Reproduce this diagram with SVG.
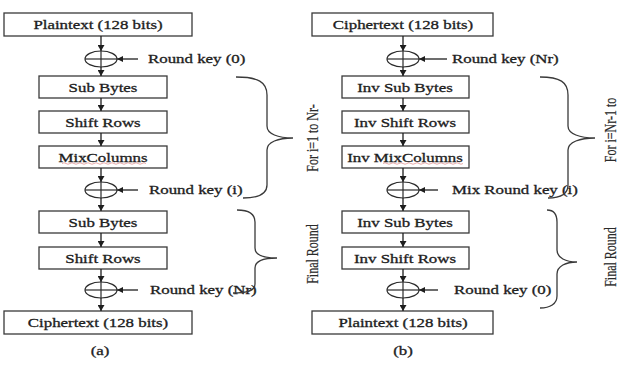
<svg xmlns="http://www.w3.org/2000/svg" width="623" height="367" viewBox="0 0 623 367">
  <defs>
    <marker id="arr" viewBox="0 0 6 7" refX="6" refY="3.5" markerWidth="6" markerHeight="7" markerUnits="userSpaceOnUse" orient="auto">
      <path d="M0,0 L6,3.5 L0,7 z" fill="#1e1e1e"/>
    </marker>
    <marker id="karr" viewBox="0 0 6 6" refX="6" refY="3" markerWidth="6" markerHeight="6" markerUnits="userSpaceOnUse" orient="auto">
      <path d="M0,0 L6,3 L0,6 z" fill="#1e1e1e"/>
    </marker>
  </defs>
  <style>
    .box { fill: #ffffff; stroke: #3a3a3a; stroke-width: 1.3; }
    .t { font-family: "Liberation Serif", "Times New Roman", serif; font-size: 12.5px; fill: #1e1e1e; stroke: #1e1e1e; stroke-width: 0.3; }
    .r { font-family: "Liberation Serif", "Times New Roman", serif; font-size: 12px; fill: #2a2a2a; stroke: #2a2a2a; stroke-width: 0.15; }
    .c { text-anchor: middle; }
    .ln { fill: none; stroke: #1e1e1e; stroke-width: 1.3; }
    .xor { fill: none; stroke: #2a2a2a; stroke-width: 1.2; }
    .brace { fill: none; stroke: #3a3a3a; stroke-width: 1.3; }
    .sq { fill: none; stroke: #d86a6a; stroke-width: 0.8; stroke-opacity: 0.7; }
  </style>
  <rect width="623" height="367" fill="#ffffff"/>

  <!-- (a) encryption -->
  <g id="enc-plaintext">
    <rect class="box" x="4" y="13" width="188" height="23"/>
    <text class="t c" transform="translate(98,28.5) scale(1.35,1)">Plaintext (128 bits)</text>
  </g>
  <g id="enc-xor0">
    <ellipse class="xor" cx="101" cy="59" rx="16" ry="8"/>
    <line class="xor" x1="85" y1="59" x2="117" y2="59"/>
    <line class="xor" x1="101" y1="51" x2="101" y2="67"/>
    <text class="t" transform="translate(148,63) scale(1.35,1)">Round key (0)</text>
  </g>
  <g id="enc-subbytes">
    <rect class="box" x="39" y="76" width="128" height="22"/>
    <text class="t c" transform="translate(103,91.5) scale(1.35,1)">Sub Bytes</text>
  </g>
  <g id="enc-shiftrows">
    <rect class="box" x="39" y="111" width="128" height="22"/>
    <text class="t c" transform="translate(103,126.5) scale(1.35,1)">Shift Rows</text>
  </g>
  <g id="enc-mixcolumns">
    <rect class="box" x="39" y="146" width="128" height="22"/>
    <text class="t c" transform="translate(103,161.5) scale(1.35,1)">MixColumns</text>
    <path class="sq" d="M62,163.5 q2,-1.5 4,0 t4,0 t4,0 t4,0 t4,0 t4,0 t4,0 t4,0 t4,0 t4,0 t4,0 t4,0 t4,0 t4,0 t4,0 t4,0 t4,0 t4,0 t4,0 t4,0 t4,0"/>
  </g>
  <g id="enc-xori">
    <ellipse class="xor" cx="101" cy="190" rx="16" ry="8"/>
    <line class="xor" x1="85" y1="190" x2="117" y2="190"/>
    <line class="xor" x1="101" y1="182" x2="101" y2="198"/>
    <text class="t" transform="translate(149,194) scale(1.35,1)">Round key (i)</text>
  </g>
  <g id="enc-subbytes-final">
    <rect class="box" x="39" y="211" width="128" height="22"/>
    <text class="t c" transform="translate(103,226.5) scale(1.35,1)">Sub Bytes</text>
  </g>
  <g id="enc-shiftrows-final">
    <rect class="box" x="39" y="247" width="128" height="22"/>
    <text class="t c" transform="translate(103,262.5) scale(1.35,1)">Shift Rows</text>
  </g>
  <g id="enc-xornr">
    <ellipse class="xor" cx="101" cy="290" rx="16" ry="8"/>
    <line class="xor" x1="85" y1="290" x2="117" y2="290"/>
    <line class="xor" x1="101" y1="282" x2="101" y2="298"/>
    <text class="t" transform="translate(150,294) scale(1.35,1)">Round key (Nr)</text>
  </g>
  <g id="enc-ciphertext">
    <rect class="box" x="4" y="311" width="188" height="23"/>
    <text class="t c" transform="translate(98,326.5) scale(1.35,1)">Ciphertext (128 bits)</text>
  </g>
  <g id="enc-rounds">
    <path class="brace" d="M236,77 C258,77 267,82 267,95 L267,126 C267,134 278,138 293,138 C278,138 267,142 267,150 L267,185 C267,194 258,198 243,198"/>
    <text class="r c" transform="translate(318,138) scale(1.35,1) rotate(-90)">For i=1 to Nr-</text>
    <path class="brace" d="M237,210 C250,210 255,214 255,222 L255,248 C255,255 264,258 277,258 C264,258 255,261 255,268 L255,284 C255,291 247,293 233,293"/>
    <text class="r c" transform="translate(318,254) scale(1.35,1) rotate(-90)">Final Round</text>
  </g>
  <text class="t c" transform="translate(100,355) scale(1.35,1)">(a)</text>

  <!-- (b) decryption -->
  <g id="dec-ciphertext">
    <rect class="box" x="312" y="13" width="181" height="23"/>
    <text class="t c" transform="translate(403,28.5) scale(1.35,1)">Ciphertext (128 bits)</text>
  </g>
  <g id="dec-xornr">
    <ellipse class="xor" cx="403" cy="59" rx="16" ry="8"/>
    <line class="xor" x1="387" y1="59" x2="419" y2="59"/>
    <line class="xor" x1="403" y1="51" x2="403" y2="67"/>
    <text class="t" transform="translate(452,63) scale(1.35,1)">Round key (Nr)</text>
  </g>
  <g id="dec-invsubbytes">
    <rect class="box" x="342" y="76" width="127" height="22"/>
    <text class="t c" transform="translate(405,91.5) scale(1.35,1)">Inv Sub Bytes</text>
  </g>
  <g id="dec-invshiftrows">
    <rect class="box" x="342" y="111" width="127" height="22"/>
    <text class="t c" transform="translate(405,126.5) scale(1.35,1)">Inv Shift Rows</text>
  </g>
  <g id="dec-invmixcolumns">
    <rect class="box" x="342" y="146" width="127" height="22"/>
    <text class="t c" transform="translate(405,161.5) scale(1.35,1)">Inv MixColumns</text>
    <path class="sq" d="M383,163.5 q2,-1.5 4,0 t4,0 t4,0 t4,0 t4,0 t4,0 t4,0 t4,0 t4,0 t4,0 t4,0 t4,0 t4,0 t4,0 t4,0 t4,0 t4,0 t4,0 t4,0 t4,0"/>
  </g>
  <g id="dec-xori">
    <ellipse class="xor" cx="403" cy="190" rx="16" ry="8"/>
    <line class="xor" x1="387" y1="190" x2="419" y2="190"/>
    <line class="xor" x1="403" y1="182" x2="403" y2="198"/>
    <text class="t" transform="translate(452,194) scale(1.35,1)">Mix Round key (i)</text>
  </g>
  <g id="dec-invsubbytes-final">
    <rect class="box" x="342" y="211" width="127" height="22"/>
    <text class="t c" transform="translate(405,226.5) scale(1.35,1)">Inv Sub Bytes</text>
  </g>
  <g id="dec-invshiftrows-final">
    <rect class="box" x="342" y="247" width="127" height="22"/>
    <text class="t c" transform="translate(405,262.5) scale(1.35,1)">Inv Shift Rows</text>
  </g>
  <g id="dec-xor0">
    <ellipse class="xor" cx="403" cy="290" rx="16" ry="8"/>
    <line class="xor" x1="387" y1="290" x2="419" y2="290"/>
    <line class="xor" x1="403" y1="282" x2="403" y2="298"/>
    <text class="t" transform="translate(454,294) scale(1.35,1)">Round key (0)</text>
  </g>
  <g id="dec-plaintext">
    <rect class="box" x="312" y="311" width="181" height="23"/>
    <text class="t c" transform="translate(403,326.5) scale(1.35,1)">Plaintext (128 bits)</text>
  </g>
  <g id="dec-rounds">
    <path class="brace" d="M540,77 C560,77 568,82 568,95 L568,126 C568,134 580,138 595,138 C580,138 568,142 568,150 L568,185 C568,194 560,198 548,198"/>
    <text class="r c" transform="translate(616,130) scale(1.35,1) rotate(-90)">For i=Nr-1 to</text>
    <path class="brace" d="M547,210 C553,210 557,214 557,222 L557,250 C557,258 566,262 577,262 C566,262 557,266 557,274 L557,296 C557,304 550,308 540,308"/>
    <text class="r c" transform="translate(616,257) scale(1.35,1) rotate(-90)">Final Round</text>
  </g>
  <text class="t c" transform="translate(403,355) scale(1.35,1)">(b)</text>

  <!-- connectors -->
  <g id="connectors">
    <line class="ln" x1="101" y1="36" x2="101" y2="51" marker-end="url(#arr)"/>
    <line class="ln" x1="101" y1="67" x2="101" y2="76" marker-end="url(#arr)"/>
    <line class="ln" x1="138" y1="59" x2="117" y2="59" marker-end="url(#karr)"/>
    <line class="ln" x1="101" y1="98" x2="101" y2="111" marker-end="url(#arr)"/>
    <line class="ln" x1="101" y1="133" x2="101" y2="146" marker-end="url(#arr)"/>
    <line class="ln" x1="101" y1="168" x2="101" y2="182" marker-end="url(#arr)"/>
    <line class="ln" x1="101" y1="198" x2="101" y2="211" marker-end="url(#arr)"/>
    <line class="ln" x1="138" y1="190" x2="117" y2="190" marker-end="url(#karr)"/>
    <line class="ln" x1="101" y1="233" x2="101" y2="247" marker-end="url(#arr)"/>
    <line class="ln" x1="101" y1="269" x2="101" y2="282" marker-end="url(#arr)"/>
    <line class="ln" x1="101" y1="298" x2="101" y2="311" marker-end="url(#arr)"/>
    <line class="ln" x1="138" y1="290" x2="117" y2="290" marker-end="url(#karr)"/>

    <line class="ln" x1="403" y1="36" x2="403" y2="51" marker-end="url(#arr)"/>
    <line class="ln" x1="403" y1="67" x2="403" y2="76" marker-end="url(#arr)"/>
    <line class="ln" x1="447" y1="59" x2="419" y2="59" marker-end="url(#karr)"/>
    <line class="ln" x1="403" y1="98" x2="403" y2="111" marker-end="url(#arr)"/>
    <line class="ln" x1="403" y1="133" x2="403" y2="146" marker-end="url(#arr)"/>
    <line class="ln" x1="403" y1="168" x2="403" y2="182" marker-end="url(#arr)"/>
    <line class="ln" x1="403" y1="198" x2="403" y2="211" marker-end="url(#arr)"/>
    <line class="ln" x1="438" y1="190" x2="419" y2="190" marker-end="url(#karr)"/>
    <line class="ln" x1="403" y1="233" x2="403" y2="247" marker-end="url(#arr)"/>
    <line class="ln" x1="403" y1="269" x2="403" y2="282" marker-end="url(#arr)"/>
    <line class="ln" x1="403" y1="298" x2="403" y2="311" marker-end="url(#arr)"/>
    <line class="ln" x1="438" y1="290" x2="419" y2="290" marker-end="url(#karr)"/>
  </g>
</svg>
